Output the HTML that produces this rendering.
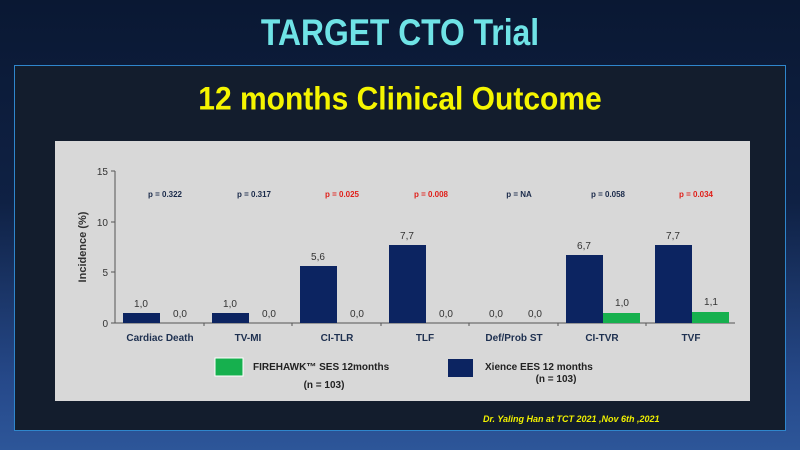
<!DOCTYPE html>
<html><head><meta charset="utf-8"><style>
body{margin:0;width:800px;height:450px;overflow:hidden;background:linear-gradient(180deg,#0a1833 0%,#0f2144 45%,#26498a 85%,#2d5699 100%);font-family:"Liberation Sans",sans-serif;position:relative}
.t{position:absolute;left:0;width:800px;text-align:center}
</style></head><body>
<div class="t" style="top:12px;font-size:37px;font-weight:bold;color:#6fe3e6;transform:scaleX(0.86)">TARGET CTO Trial</div>
<div style="position:absolute;left:14px;top:65px;width:770px;height:364px;background:#131d2d;border:1.5px solid #2f86cc"></div>
<div class="t" style="top:83px;font-size:30px;font-weight:bold;color:#f5f500;transform:scaleY(1.08)">12 months Clinical Outcome</div>
<div style="position:absolute;left:55px;top:141px;width:695px;height:260px;background:#d8d8d8"></div>
<svg style="position:absolute;left:0;top:0" width="800" height="450" font-family="Liberation Sans,sans-serif">
<g stroke="#555" stroke-width="1">
<line x1="115" y1="171" x2="115" y2="323"/><line x1="115" y1="323" x2="735" y2="323"/>
<line x1="111" y1="171" x2="115" y2="171"/><line x1="111" y1="222" x2="115" y2="222"/><line x1="111" y1="272" x2="115" y2="272"/><line x1="111" y1="323" x2="115" y2="323"/>
<line x1="204" y1="323" x2="204" y2="326"/><line x1="292" y1="323" x2="292" y2="326"/><line x1="381" y1="323" x2="381" y2="326"/><line x1="469" y1="323" x2="469" y2="326"/><line x1="558" y1="323" x2="558" y2="326"/><line x1="646" y1="323" x2="646" y2="326"/>
</g>
<g font-size="10" fill="#333" text-anchor="end"><text x="108" y="175">15</text><text x="108" y="226">10</text><text x="108" y="276">5</text><text x="108" y="327">0</text></g>
<text transform="translate(86,247) rotate(-90)" text-anchor="middle" font-size="11" font-weight="bold" fill="#333">Incidence (%)</text>
<g fill="#0c2461">
<rect x="123" y="313" width="37" height="10"/><rect x="212" y="313" width="37" height="10"/><rect x="300" y="266" width="37" height="57"/><rect x="389" y="245" width="37" height="78"/><rect x="566" y="255" width="37" height="68"/><rect x="655" y="245" width="37" height="78"/>
</g>
<g fill="#16b04e"><rect x="603" y="313" width="37" height="10"/><rect x="692" y="312" width="37" height="11"/></g>
<g font-size="10" fill="#333" text-anchor="middle">
<text x="141" y="307">1,0</text><text x="180" y="317">0,0</text>
<text x="230" y="307">1,0</text><text x="269" y="317">0,0</text>
<text x="318" y="260">5,6</text><text x="357" y="317">0,0</text>
<text x="407" y="239">7,7</text><text x="446" y="317">0,0</text>
<text x="496" y="317">0,0</text><text x="535" y="317">0,0</text>
<text x="584" y="249">6,7</text><text x="622" y="306">1,0</text>
<text x="673" y="239">7,7</text><text x="711" y="305">1,1</text>
</g>
<g font-size="8" font-weight="bold" text-anchor="middle">
<text x="165" y="197" fill="#1a2a4a">p = 0.322</text><text x="254" y="197" fill="#1a2a4a">p = 0.317</text>
<text x="342" y="197" fill="#e0201a">p = 0.025</text><text x="431" y="197" fill="#e0201a">p = 0.008</text>
<text x="519" y="197" fill="#1a2a4a">p = NA</text><text x="608" y="197" fill="#1a2a4a">p = 0.058</text>
<text x="696" y="197" fill="#e0201a">p = 0.034</text>
</g>
<g font-size="10" font-weight="bold" fill="#1e3050" text-anchor="middle">
<text x="160" y="341">Cardiac Death</text><text x="248" y="341">TV-MI</text><text x="337" y="341">CI-TLR</text><text x="425" y="341">TLF</text><text x="514" y="341">Def/Prob ST</text><text x="602" y="341">CI-TVR</text><text x="691" y="341">TVF</text>
</g>
<rect x="215" y="358" width="28" height="18" fill="#16b04e" stroke="#fff" stroke-width="1"/>
<rect x="448" y="359" width="25" height="18" fill="#0c2461"/>
<g font-size="10" font-weight="bold" fill="#222">
<text x="253" y="370">FIREHAWK™ SES  12months</text><text x="324" y="388" text-anchor="middle">(n = 103)</text>
<text x="485" y="370">Xience  EES 12 months</text><text x="556" y="382" text-anchor="middle">(n = 103)</text>
</g>
<text x="483" y="422" font-size="9" font-weight="bold" font-style="italic" fill="#f0f000">Dr. Yaling Han at TCT 2021 ,Nov 6th ,2021</text>
</svg>
</body></html>
